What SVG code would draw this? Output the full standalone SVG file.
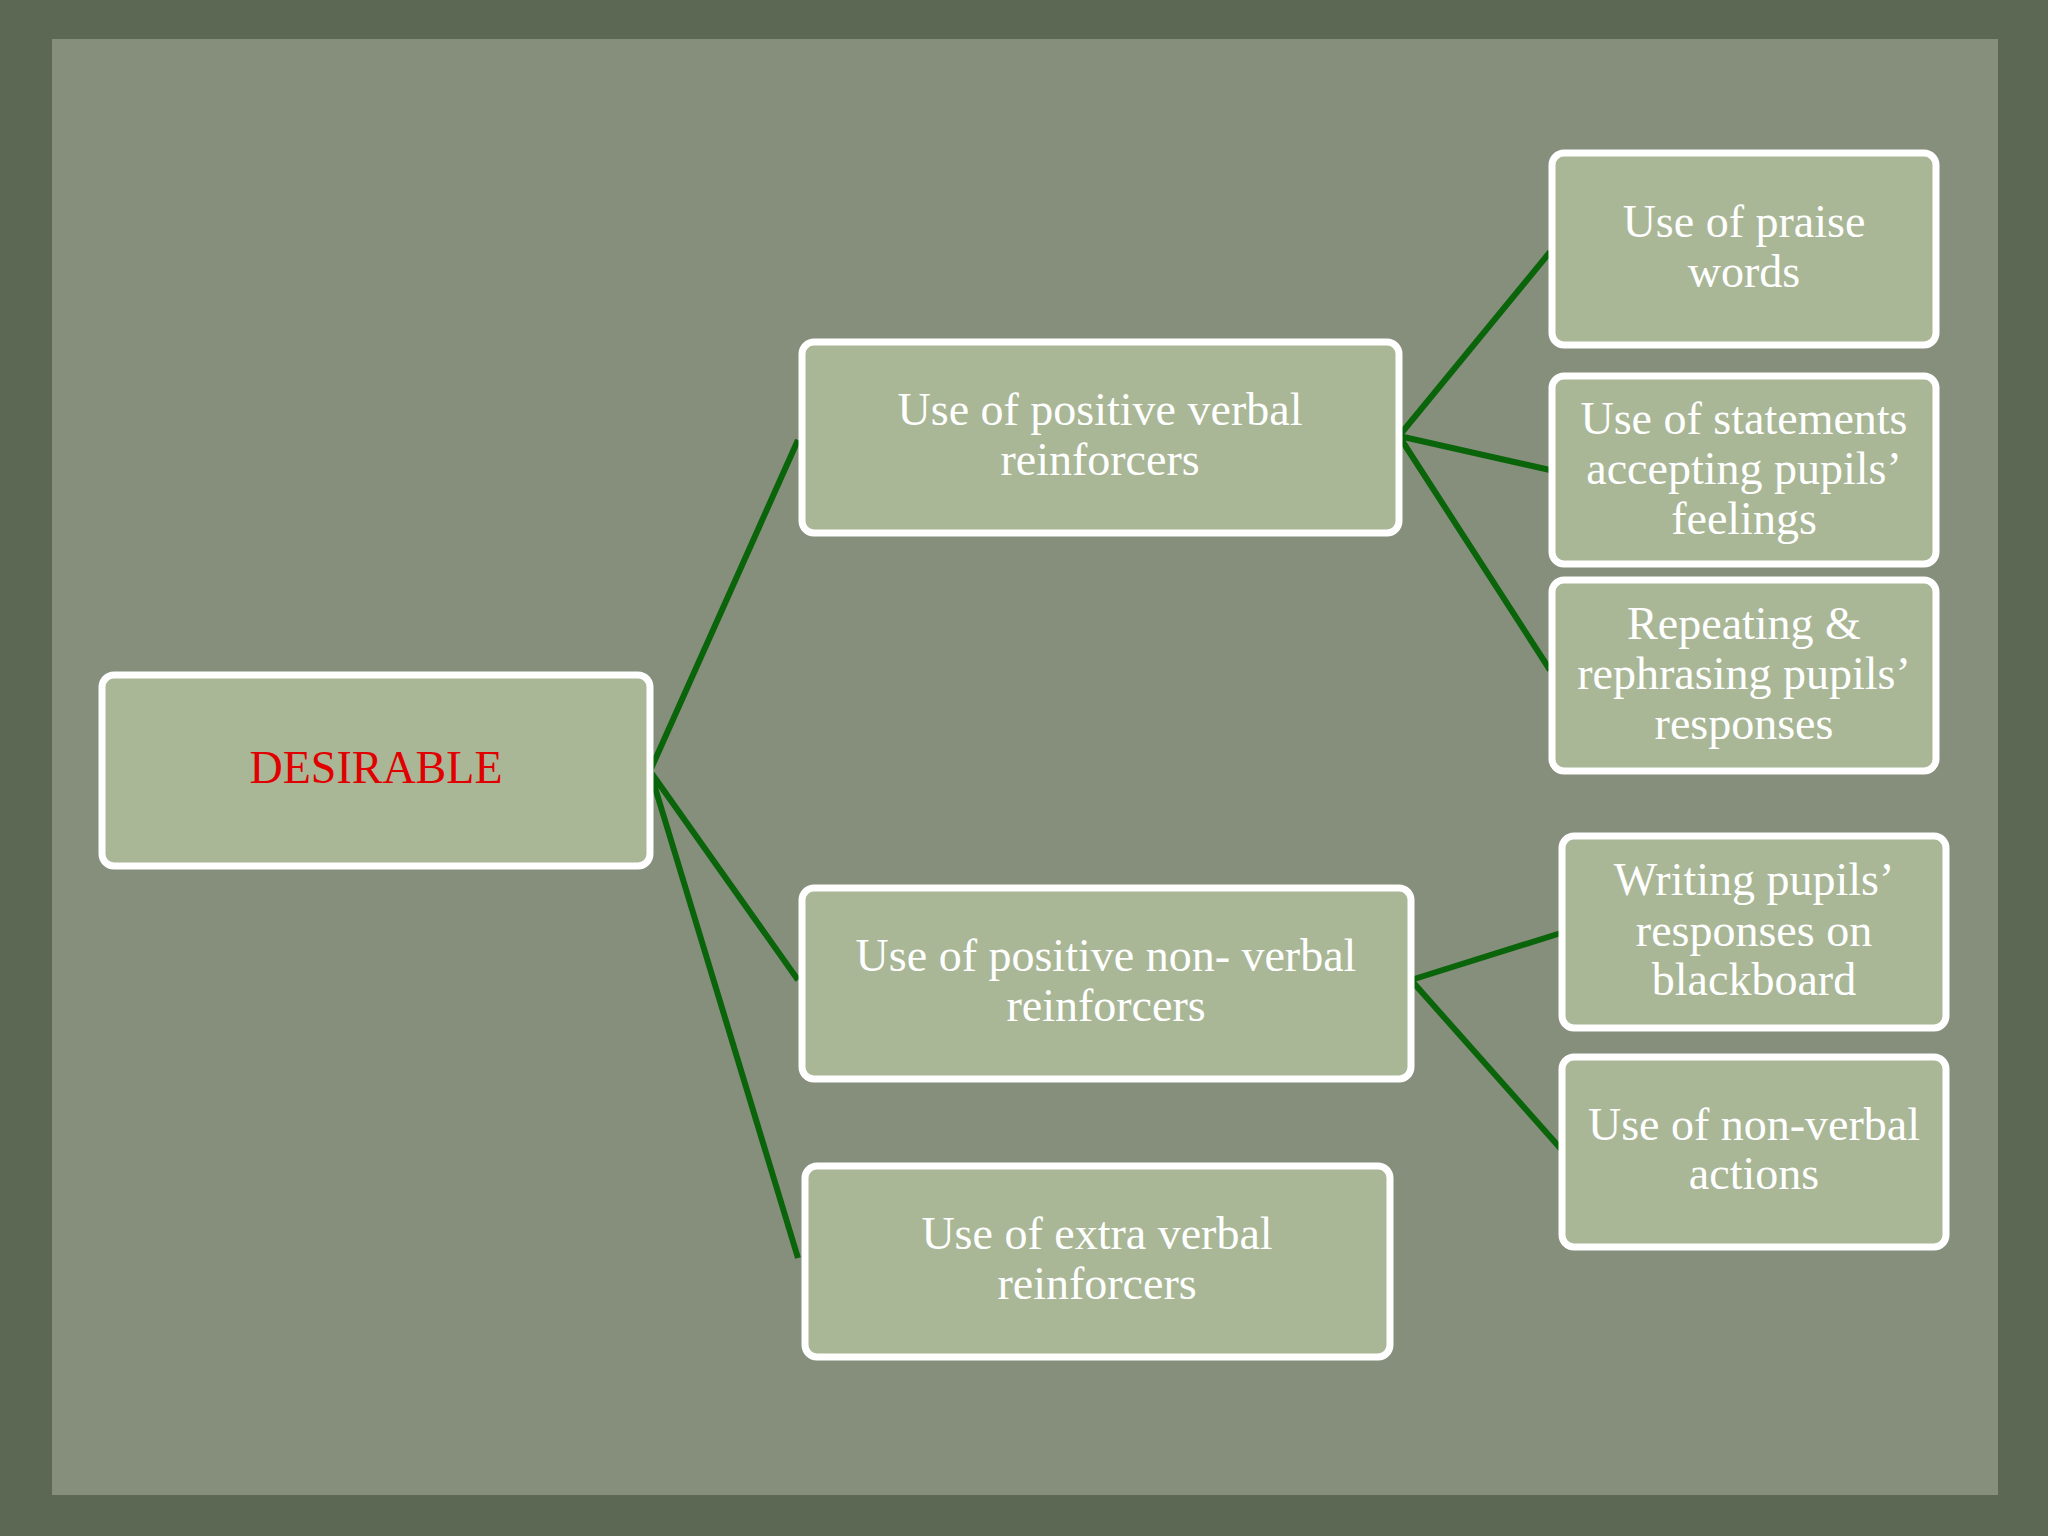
<svg xmlns="http://www.w3.org/2000/svg" width="2048" height="1536" viewBox="0 0 2048 1536">
<style>
.n{fill:#a9b796;stroke:#fff;stroke-width:7}
.t{font-family:"Liberation Serif","DejaVu Serif",serif;font-size:46px;fill:#fff;text-anchor:middle}
.c{stroke:#0a640a;stroke-width:6;fill:none}
</style>
<rect width="2048" height="1536" fill="#5c6853"/>
<rect x="52" y="39" width="1946" height="1456" fill="#858f7c"/>
<g id="connectors">
<path class="c" d="M650 771L798 440M650 771L798 980M650 771L798 1258"/>
<path class="c" d="M1399 436L1550 252M1399 436L1550 470M1399 436L1550 670"/>
<path class="c" d="M1411 980L1561 933M1411 980L1561 1149"/>
</g>
<g id="desirable"><rect class="n" x="102" y="675" width="548" height="191" rx="12"/><text class="t" x="376" y="783" style="fill:#e00000">DESIRABLE</text></g>
<g id="verbal"><rect class="n" x="802" y="342" width="597" height="191" rx="12"/><text class="t" x="1100" y="425">Use of positive verbal</text><text class="t" x="1100" y="475">reinforcers</text></g>
<g id="nonverbal"><rect class="n" x="802" y="888" width="609" height="191" rx="12"/><text class="t" x="1106" y="971">Use of positive non- verbal</text><text class="t" x="1106" y="1021">reinforcers</text></g>
<g id="extra"><rect class="n" x="805" y="1166" width="585" height="191" rx="12"/><text class="t" x="1097" y="1249">Use of extra verbal</text><text class="t" x="1097" y="1299">reinforcers</text></g>
<g id="praise"><rect class="n" x="1552" y="153" width="384" height="192" rx="12"/><text class="t" x="1744" y="237">Use of praise</text><text class="t" x="1744" y="287">words</text></g>
<g id="statements"><rect class="n" x="1552" y="376" width="384" height="188" rx="12"/><text class="t" x="1744" y="434">Use of statements</text><text class="t" x="1744" y="484">accepting pupils’</text><text class="t" x="1744" y="534">feelings</text></g>
<g id="repeating"><rect class="n" x="1552" y="580" width="384" height="191" rx="12"/><text class="t" x="1744" y="639">Repeating &amp;</text><text class="t" x="1744" y="689">rephrasing pupils’</text><text class="t" x="1744" y="739">responses</text></g>
<g id="writing"><rect class="n" x="1562" y="836" width="384" height="192" rx="12"/><text class="t" x="1754" y="895">Writing pupils’</text><text class="t" x="1754" y="946">responses on</text><text class="t" x="1754" y="995">blackboard</text></g>
<g id="actions"><rect class="n" x="1562" y="1057" width="384" height="190" rx="12"/><text class="t" x="1754" y="1140">Use of non-verbal</text><text class="t" x="1754" y="1189">actions</text></g>
</svg>
